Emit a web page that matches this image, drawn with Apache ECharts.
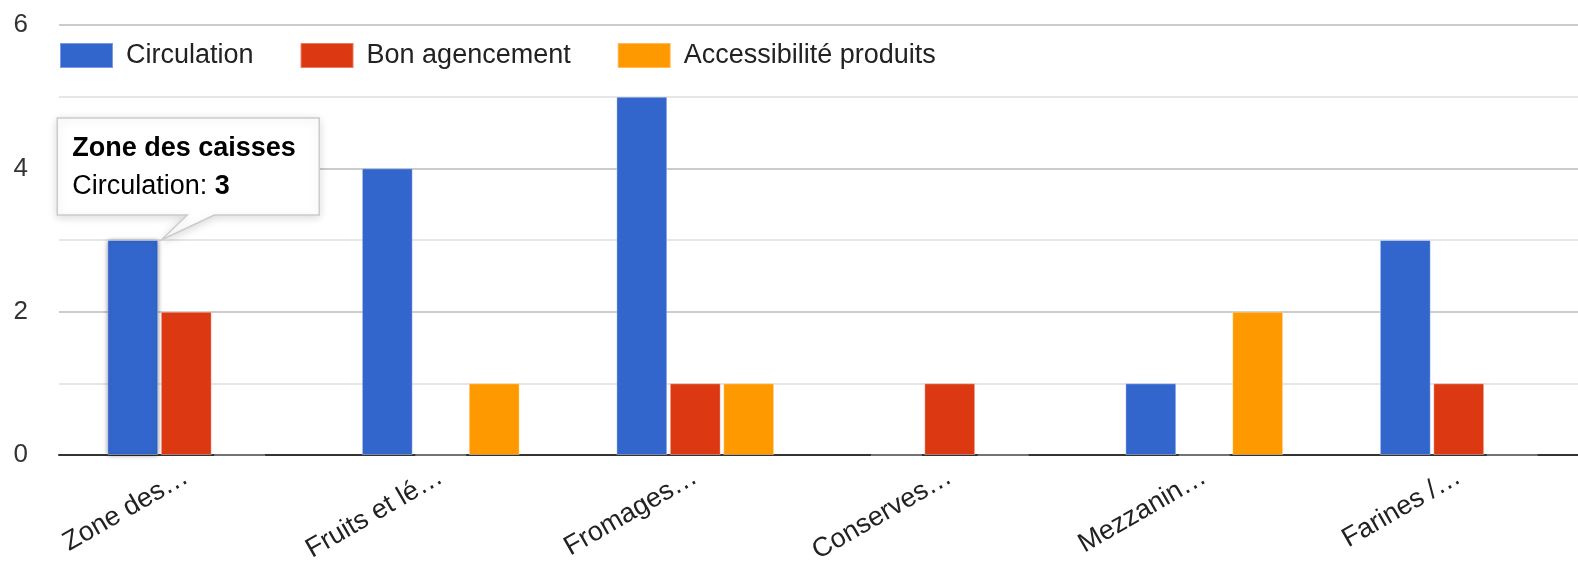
<!DOCTYPE html>
<html>
<head>
<meta charset="utf-8">
<script src="https://cdn.jsdelivr.net/npm/echarts@6/dist/echarts.min.js"></script>
<style>
  html, body { margin: 0; padding: 0; background: #fff; overflow: hidden; }
  #chart { width: 1578px; height: 561px; }
</style>
</head>
<body>
<div id="chart"></div>
<script>
// ---- data ----
const categories = ['Zone des…', 'Fruits et lé…', 'Fromages…', 'Conserves…', 'Mezzanin…', 'Farines /…'];
const seriesNames = ['Circulation', 'Bon agencement', 'Accessibilité produits'];
const circulation = [3, 4, 5, 0, 1, 3];
const bonAgencement = [2, 0, 1, 1, 0, 1];
const accessibilite = [0, 1, 1, 0, 2, 0];
const yTicks = [0, 2, 4, 6];
const tooltipTitle = 'Zone des caisses';
const tooltipSeries = 0;
const tooltipIndex = 0;

const colors = ['#3366cc', '#dc3912', '#ff9900'];
const font = 'Arial, "Liberation Sans", Helvetica, sans-serif';

const chart = echarts.init(document.getElementById('chart'));

const values = [circulation, bonAgencement, accessibilite];
const series = values.map((arr, si) => ({
  name: seriesNames[si],
  type: 'bar',
  barCategoryGap: '38%',
  barGap: '5%',
  itemStyle: { color: colors[si], borderColor: 'rgba(255,255,255,0.35)', borderWidth: 1 },
  data: arr.map((v, i) => (si === tooltipSeries && i === tooltipIndex)
    ? { value: v, itemStyle: { shadowBlur: 5, shadowColor: 'rgba(0,0,0,0.55)' } }
    : v)
}));

const option = {
  animation: false,
  color: colors,
  textStyle: { fontFamily: font },
  grid: { left: 59, top: 25, width: 1527, height: 430, outerBoundsMode: 'none', containLabel: false },
  legend: {
    left: 59, top: 42, padding: 0,
    itemWidth: 53, itemHeight: 25, itemGap: 46,
    icon: 'rect',
    textStyle: { fontSize: 27, color: '#222', fontFamily: font, padding: [0, 0, 0, 8] },
    data: seriesNames
  },
  xAxis: {
    type: 'category',
    data: categories,
    axisTick: { show: false },
    axisLine: { lineStyle: { color: '#333', width: 2 } },
    axisLabel: { rotate: 30, interval: 0, margin: 20, fontSize: 27, color: '#222', fontFamily: font }
  },
  yAxis: {
    type: 'value',
    min: yTicks[0], max: yTicks[yTicks.length - 1], interval: yTicks[1] - yTicks[0],
    axisLine: { show: false }, axisTick: { show: false },
    axisLabel: { margin: 31, fontSize: 26, color: '#333', fontFamily: font },
    splitLine: { lineStyle: { color: '#cccccc', width: 2 } },
    minorTick: { show: false, splitNumber: 2 },
    minorSplitLine: { show: true, lineStyle: { color: '#e6e6e6', width: 2 } }
  },
  series: series
};
chart.setOption(option);

// ---- tooltip annotation anchored at the highlighted bar ----
function addTooltip() {
  let tx, ty;
  try {
    const layout = chart.getModel().getSeriesByIndex(tooltipSeries).getData().getItemLayout(tooltipIndex);
    tx = layout.x + layout.width + 3;
    ty = Math.min(layout.y, layout.y + layout.height);
  } catch (e) {
    const p = chart.convertToPixel({ gridIndex: 0 }, [tooltipIndex, values[tooltipSeries][tooltipIndex]]);
    tx = p[0]; ty = p[1];
  }
  const L = tx - 104, T = ty - 122, R = tx + 158, B = ty - 25;
  const x1 = tx + 26, x2 = tx + 53;
  chart.setOption({
    graphic: [
      {
        type: 'polygon', z: 100,
        shape: { points: [[L, T], [R, T], [R, B], [x2, B], [tx, ty], [x1, B], [L, B]] },
        style: { fill: '#fff', stroke: '#cccccc', lineWidth: 1.5, shadowBlur: 10, shadowColor: 'rgba(0,0,0,0.15)', shadowOffsetY: 2 }
      },
      {
        type: 'text', z: 101, x: L + 15, y: T + 12,
        style: {
          text: '{t|' + tooltipTitle + '}\n{n|' + seriesNames[tooltipSeries] + ': }{b|' + values[tooltipSeries][tooltipIndex] + '}',
          fontFamily: font,
          rich: {
            t: { fontSize: 27, fontWeight: 'bold', fill: '#000', lineHeight: 38, fontFamily: font },
            n: { fontSize: 27, fill: '#000', lineHeight: 38, fontFamily: font },
            b: { fontSize: 27, fontWeight: 'bold', fill: '#000', lineHeight: 38, fontFamily: font }
          }
        }
      }
    ]
  });
}
addTooltip();
</script>
</body>
</html>
